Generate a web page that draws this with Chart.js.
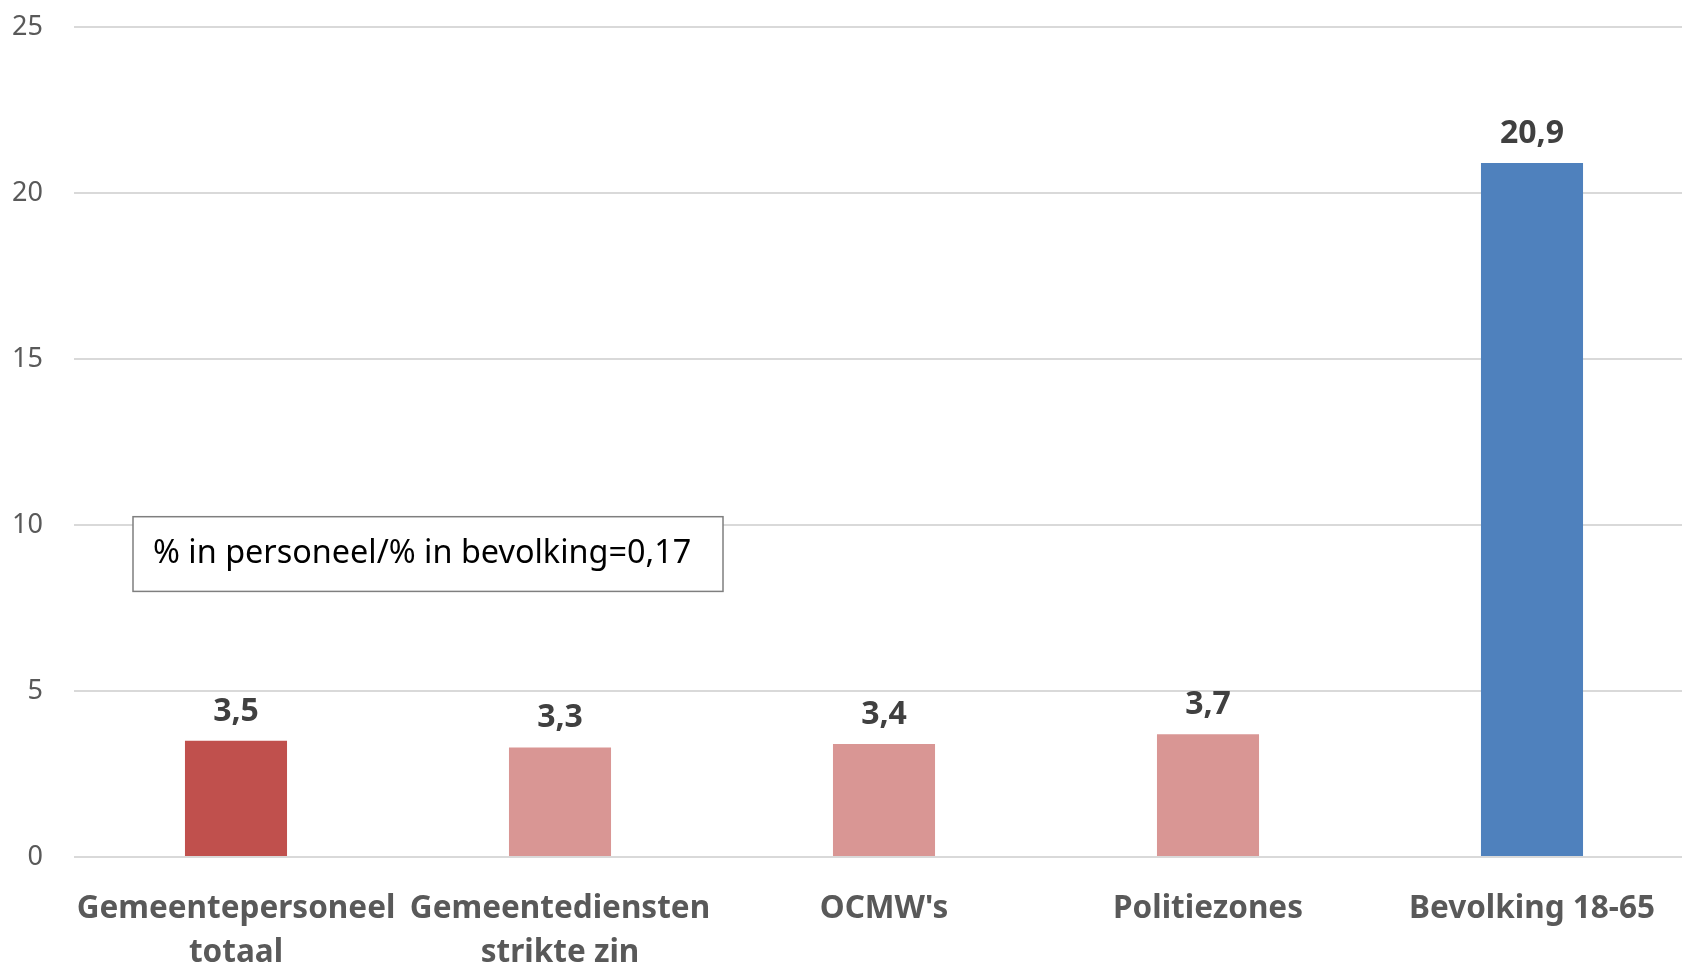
<!DOCTYPE html>
<html>
<head>
<meta charset="utf-8">
<script src="https://cdn.jsdelivr.net/npm/chart.js@4.4.1/dist/chart.umd.min.js"></script>
<style>
  html, body { margin: 0; padding: 0; background: #fff; overflow: hidden; }
  #wrap { width: 1694px; height: 965px; }
</style>
</head>
<body>
<div id="wrap"><canvas id="myChart" width="1694" height="965"></canvas></div>
<script>
// data
const categorieen = [
  ['Gemeentepersoneel', 'totaal'],
  ['Gemeentediensten', 'strikte zin'],
  "OCMW's",
  'Politiezones',
  'Bevolking 18-65'
];
const waarden = [3.5, 3.3, 3.4, 3.7, 20.9];
const kleuren = ['#C0504D', '#D99694', '#D99694', '#D99694', '#4F81BD'];
const yTicks = [0, 5, 10, 15, 20, 25];
const notitie = '% in personeel/% in bevolking=0,17';

const fmt = (v) => v.toFixed(1).replace('.', ',');

// waarde-labels boven de balken
const labelsPlugin = {
  id: 'waardeLabels',
  afterDatasetsDraw(chart) {
    const ctx = chart.ctx;
    const meta = chart.getDatasetMeta(0);
    ctx.save();
    ctx.font = 'bold 32px "Noto Sans"';
    ctx.fillStyle = '#404040';
    ctx.textAlign = 'center';
    ctx.textBaseline = 'alphabetic';
    meta.data.forEach((bar, i) => {
      ctx.fillText(fmt(waarden[i]), bar.x, bar.y - 20);
    });
    ctx.restore();
  }
};

// tekstvak met de verhouding
const notitiePlugin = {
  id: 'notitie',
  afterDraw(chart) {
    const { ctx, scales } = chart;
    const left = scales.x.getPixelForValue(0) - 103;
    const right = left + 590;
    const top = scales.y.getPixelForValue(10.25);
    const bottom = scales.y.getPixelForValue(8.0);
    ctx.save();
    ctx.fillStyle = '#fff';
    ctx.fillRect(left, top, right - left, bottom - top);
    ctx.strokeStyle = '#7F7F7F';
    ctx.lineWidth = 1.5;
    ctx.strokeRect(left, top, right - left, bottom - top);
    ctx.font = '32.4px "Noto Sans"';
    ctx.fillStyle = '#000';
    ctx.textAlign = 'left';
    ctx.textBaseline = 'middle';
    ctx.fillText(notitie, left + 20, (top + bottom) / 2);
    ctx.restore();
  }
};

const ctx = document.getElementById('myChart');
new Chart(ctx, {
  type: 'bar',
  data: {
    labels: categorieen,
    datasets: [{
      data: waarden,
      backgroundColor: kleuren,
      borderWidth: 0,
      barPercentage: 0.315,
      categoryPercentage: 1
    }]
  },
  options: {
    responsive: false,
    animation: false,
    layout: { padding: { top: 27, left: 0, right: 0, bottom: 0 } },
    plugins: {
      legend: { display: false },
      tooltip: { enabled: false }
    },
    scales: {
      x: {
        grid: { display: false },
        border: { display: false },
        ticks: {
          color: '#595959',
          font: { family: 'Noto Sans', size: 31.5, weight: 'bold', lineHeight: 1.4 },
          padding: 22,
          maxRotation: 0,
          minRotation: 0,
          autoSkip: false
        },
        afterFit(scale) { scale.height = 108; }
      },
      y: {
        min: 0,
        max: 25,
        afterBuildTicks(scale) { scale.ticks = yTicks.map((v) => ({ value: v })); },
        grid: { color: '#D9D9D9', lineWidth: 2, drawTicks: false },
        border: { display: false },
        ticks: {
          color: '#595959',
          font: { family: 'Noto Sans', size: 27 },
          padding: 31
        },
        afterFit(scale) {
          scale.width = 74;
          scale.paddingTop = 0;
          scale.paddingBottom = 0;
        }
      }
    }
  },
  plugins: [labelsPlugin, notitiePlugin]
});
</script>
</body>
</html>
